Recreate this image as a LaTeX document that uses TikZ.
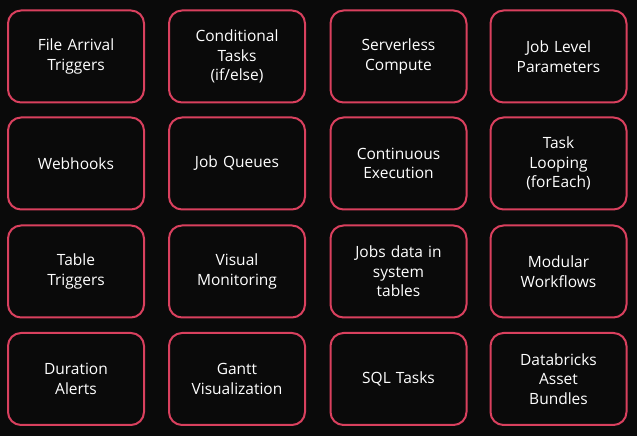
\documentclass[tikz,border=0pt]{standalone}
\usepackage{fontspec}
\setmainfont{Open Sans}
\usetikzlibrary{positioning}
\definecolor{boxred}{HTML}{D9405E}
\definecolor{bg}{HTML}{0A0A0A}
\begin{document}
\begin{tikzpicture}[x=1pt,y=1pt,
    feature/.style={rectangle, draw=boxred, line width=2pt, fill=bg, text=white, text width=120pt, align=center, rounded corners=13pt, minimum width=136pt, minimum height=92pt, font=\fontsize{15.5}{19.5}\selectfont, inner sep=0pt}
]
    \fill[bg] (0,0) rectangle (637,436);
    \useasboundingbox (0,0) rectangle (637,436);

    % Row 1
    \node[feature] (filearr) at (76,379.5) {File Arrival\\Triggers};
    \node[feature] (condtask) at (237,379.5) {Conditional\\Tasks\\(if/else)};
    \node[feature] (serverless) at (398.5,379.5) {Serverless\\Compute};
    \node[feature] (jobparams) at (558.5,379.5) {Job Level\\Parameters};

    % Row 2
    \node[feature] (webhooks) at (76,272.5) {Webhooks};
    \node[feature] (jobqueues) at (237,272.5) {Job Queues};
    \node[feature] (contexec) at (398.5,272.5) {Continuous\\Execution};
    \node[feature] (looping) at (558.5,272.5) {Task\\Looping\\(forEach)};

    % Row 3
    \node[feature] (tabletrig) at (76,164.5) {Table\\Triggers};
    \node[feature] (visualmon) at (237,164.5) {Visual\\Monitoring};
    \node[feature] (systables) at (398.5,164.5) {Jobs data in\\system\\tables};
    \node[feature] (modular) at (558.5,164.5) {Modular\\Workflows};

    % Row 4
    \node[feature] (duration) at (76,57) {Duration\\Alerts};
    \node[feature] (gantt) at (237,57) {Gantt\\Visualization};
    \node[feature] (sqltasks) at (398.5,57) {SQL Tasks};
    \node[feature] (bundles) at (558.5,57) {Databricks\\Asset\\Bundles};

\end{tikzpicture}
\end{document}
